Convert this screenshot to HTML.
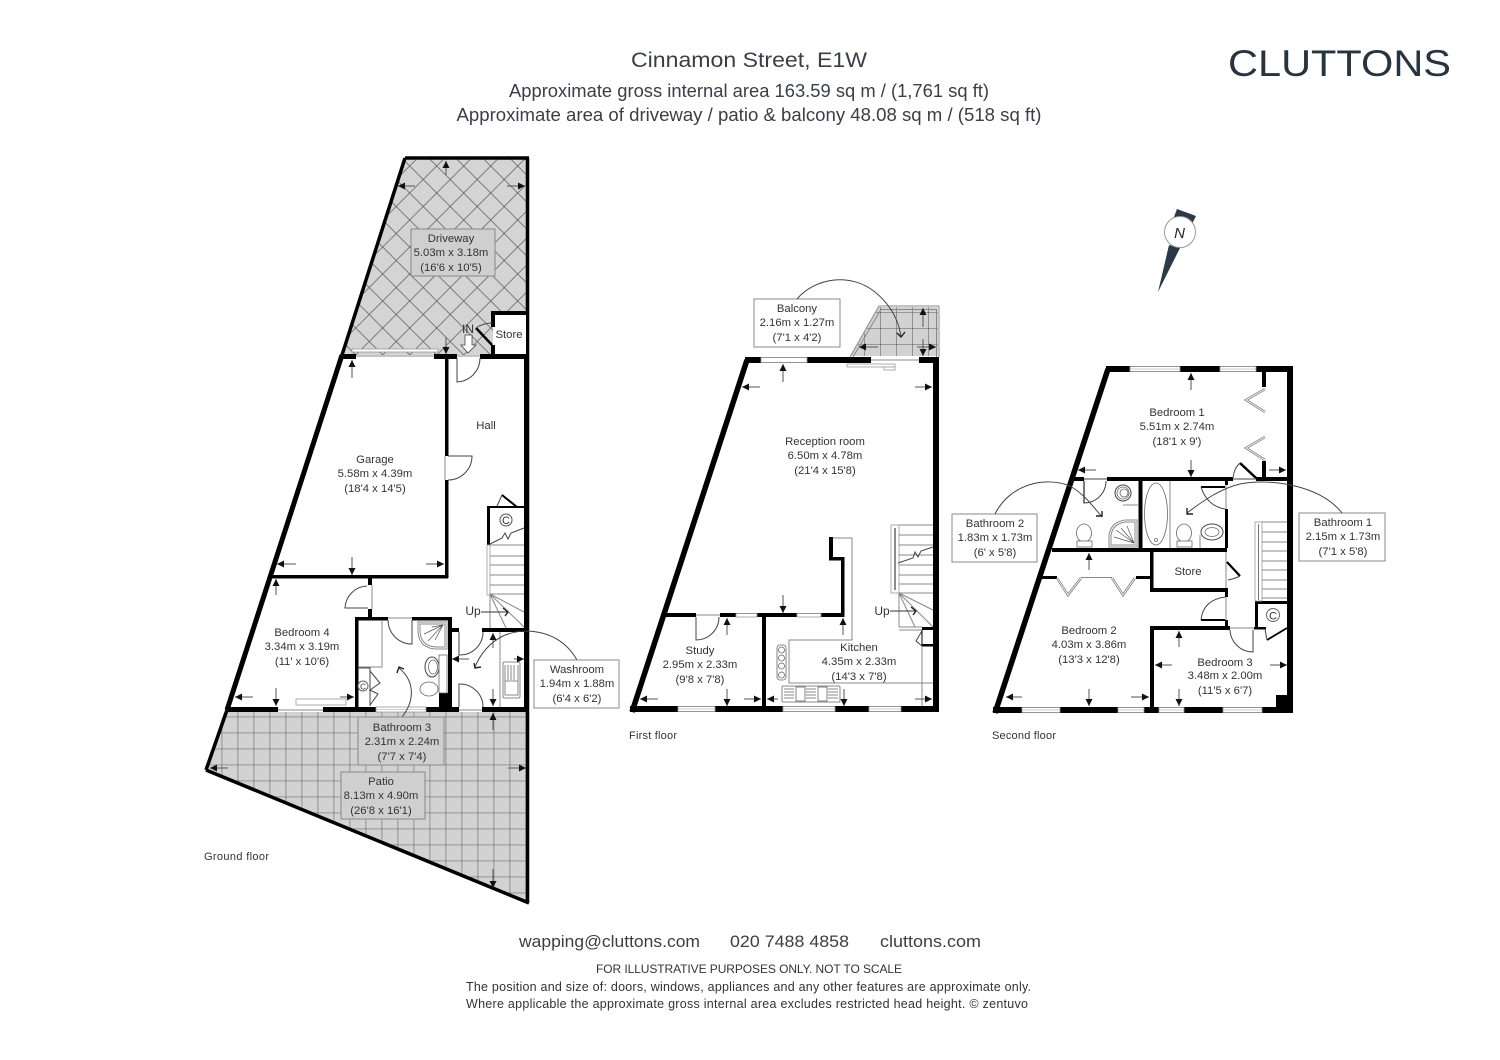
<!DOCTYPE html>
<html><head><meta charset="utf-8"><style>
html,body{margin:0;padding:0;background:#fff}
svg{display:block}
text{font-family:"Liberation Sans",sans-serif;fill:#333}
.l text,.l{font-size:11.3px;text-anchor:middle}
.h{fill:#3a3f45}
.g{fill:none;stroke:#888;stroke-width:1}
.t{fill:none;stroke:#333;stroke-width:.9}
.d{fill:none;stroke:#444;stroke-width:1}
.a{fill:none;stroke:#555;stroke-width:1;marker-end:url(#ah)}
.c{fill:none;stroke:#444;stroke-width:1}
.o{fill:none;stroke:#222;stroke-width:1.400}
.w{fill:#fff;stroke:#999;stroke-width:.8}
.f{fill:#fff;stroke:#666;stroke-width:.8}
</style></head><body>
<svg width="1500" height="1060" viewBox="0 0 1500 1060" xmlns="http://www.w3.org/2000/svg">
<defs>
<marker id="ah" markerUnits="userSpaceOnUse" markerWidth="7" markerHeight="7" refX="7" refY="3.500" orient="auto"><path d="M0 0L7 3.500L0 7Z" fill="#111"/></marker>
<pattern id="dia" patternUnits="userSpaceOnUse" x="423.200" y="179.500" width="27" height="27"><rect width="27" height="27" fill="#d4d4d4"/><path d="M0 0L27 27M27 0L0 27" stroke="#555" stroke-width=".7"/></pattern>
<pattern id="sq" patternUnits="userSpaceOnUse" x="221.700" y="716.700" width="16" height="16"><rect width="16" height="16" fill="#d2d2d2"/><path d="M0 0V16M0 0H16" stroke="#333" stroke-width=".8"/></pattern>
<pattern id="sq2" patternUnits="userSpaceOnUse" x="880" y="312" width="16" height="16"><rect width="16" height="16" fill="#d2d2d2"/><path d="M0 0V16M0 0H16" stroke="#333" stroke-width=".8"/></pattern>
</defs>

<!-- headings -->
<text x="749" y="67" text-anchor="middle" font-size="21" class="h" textLength="236" lengthAdjust="spacingAndGlyphs">Cinnamon Street, E1W</text>
<text x="749" y="97" text-anchor="middle" font-size="18" class="h" textLength="480" lengthAdjust="spacingAndGlyphs">Approximate gross internal area 163.59 sq m / (1,761 sq ft)</text>
<text x="749" y="121" text-anchor="middle" font-size="18" class="h" textLength="585" lengthAdjust="spacingAndGlyphs">Approximate area of driveway / patio &amp; balcony 48.08 sq m / (518 sq ft)</text>
<text x="1228" y="76" font-size="37" style="fill:#263441" textLength="223" lengthAdjust="spacingAndGlyphs">CLUTTONS</text>

<!-- north -->
<path d="M1177 209L1196 216L1192 224L1174 217Z M1169 245L1180 248L1158 292Z" fill="#2b3a46"/>
<circle cx="1180" cy="232" r="15.500" fill="#fff" stroke="#999"/>
<text x="1179.500" y="238" font-size="15" font-style="italic" text-anchor="middle" style="fill:#222">N</text>

<!-- GROUND: driveway & patio -->
<polygon points="405,158 528,158 528,355 343,355" fill="url(#dia)"/>
<polygon points="224,712 528,712 528,902 206,770" fill="url(#sq)"/>
<path d="M405 158H529M527.500 158V903M206 770L529 903" fill="none" stroke="#000" stroke-width="3.500"/>
<path d="M405 158L342 355" stroke="#000" stroke-width="3.500" fill="none"/>
<path d="M342 355L227 710" stroke="#000" stroke-width="5" fill="none"/>
<path d="M227 710L206 770" stroke="#000" stroke-width="3.500" fill="none"/>
<rect x="524" y="355" width="5" height="355"/>

<!-- store -->
<rect x="493" y="313" width="33" height="42" fill="#fff"/>
<path fill="#000" d="M491 311H526V315H495V327H491ZM491 345H495V355H491Z"/>
<path d="M476 328L492 345" stroke="#000" stroke-width="2.500"/>
<path class="c" d="M476 328Q483 323 492 323"/>
<text x="468" y="333" font-size="12" text-anchor="middle">IN</text>
<polygon points="465,335 472,335 472,345 476,345 468,353 461,345 465,345" fill="#fff" stroke="#444" stroke-width=".8"/>

<!-- ground walls -->
<g fill="#000">
<rect x="343" y="354" width="13" height="5"/><rect x="434" y="354" width="23" height="5"/><rect x="480" y="354" width="49" height="5"/>
<rect x="445" y="355" width="3.500" height="101"/><rect x="445" y="480" width="3.500" height="98"/>
<rect x="272" y="575" width="176" height="3.500"/>
<rect x="368" y="578" width="4" height="7"/><rect x="368" y="609" width="4" height="8"/>
<rect x="355" y="617" width="33" height="3.500"/><rect x="412" y="617" width="40" height="3.500"/>
<rect x="355" y="617" width="3.500" height="92"/><rect x="448" y="617" width="4" height="90"/><rect x="439" y="693" width="13" height="15"/>
<rect x="228" y="707" width="50" height="5"/><rect x="323" y="707" width="53" height="5"/><rect x="426" y="707" width="33" height="5"/><rect x="482" y="707" width="46" height="5"/>
<rect x="451" y="628" width="8" height="4"/><rect x="482" y="628" width="44" height="4"/>
<rect x="487" y="507" width="3" height="38"/><rect x="487" y="506" width="37" height="2"/>
</g>
<rect x="352" y="349" width="86" height="3" class="w"/>
<path class="g" d="M356 356H434M457 356H480M278 710H323M459 710H482M372 585V609M445 456V480M388 618H412"/>
<rect x="376" y="707" width="50" height="5" class="w"/><path d="M376 709.500H426" stroke="#999" stroke-width=".6"/>
<rect x="296" y="699" width="50" height="6" class="w"/>

<!-- doors ground -->
<path class="d" d="M457 358V382A24 24 0 0 0 480 358"/>
<path class="d" d="M448 456H472A24 24 0 0 1 448 480"/>
<path class="d" d="M368 608H345A23 23 0 0 1 367 586"/>
<path class="d" d="M412 620V644A24 24 0 0 1 388 620"/>
<path class="d" d="M459 632V655A23 23 0 0 0 483 632"/>
<path class="d" d="M459 707V684A23 23 0 0 1 483 707"/>
<path class="g" d="M500 632V707"/>
<!-- stairs ground -->
<path d="M497 506L502 495" class="c"/><path d="M502 495L517 507" stroke="#000" stroke-width="2" fill="none"/>
<circle cx="506" cy="520" r="6" fill="none" stroke="#555"/><text x="506" y="524" font-size="11" text-anchor="middle">C</text>
<path class="c" d="M490 544L502 538L505 533L508 539L511 533L524 528"/>
<rect x="487" y="545" width="3" height="50" class="w"/>
<path class="g" d="M490 545H524M490 556H524M490 565H524M490 575H524M490 585H524M490 594H524M490 594L524 612M490 594L524 627M490 594L506 628M490 594V628"/>
<text x="473" y="615" font-size="12" text-anchor="middle">Up</text>
<path class="t" d="M481 612H507"/><path class="o" d="M503 608L508 612L505 616"/>
<!-- bath 3 fixtures -->
<path class="g" d="M382 621V667H358.500"/>
<path class="d" d="M358 668H370V706M370 671L380 683L370 690L378 694L370 705" stroke-width="1.200"/>
<circle cx="363" cy="686" r="5" fill="none" stroke="#666"/><text x="363" y="689.500" font-size="8" text-anchor="middle">C</text>
<path class="g" d="M418 622H447V649H436Q418 648 418 630Z"/>
<path class="g" d="M420 624H445V647H436Q420 646 420 630Z"/>
<path stroke="#555" stroke-width=".7" fill="none" d="M443 625L424 634M443 625L428 641M443 625L435 640M443 625L432 627"/>
<ellipse cx="432" cy="667" rx="7" ry="10" fill="#fff" stroke="#444"/><ellipse cx="433" cy="667" rx="4.500" ry="7" class="f"/>
<rect x="439" y="655" width="8" height="38" class="f"/>
<ellipse cx="429" cy="689" rx="9" ry="7" class="f"/>
<!-- washroom sink -->
<rect x="503" y="662" width="17" height="36" rx="1.500" class="f"/>
<path class="g" d="M505 665V681H518V665M508 665V680M511 665V680M514 665V680M505 681V695H518V681"/>
<!-- washroom / bathroom arcs -->
<path class="c" d="M577 660C560 630 525 626 503 636C489 643 480 655 475 667"/><path class="o" d="M474 663L475 668L481 667"/>
<path class="c" d="M402 717C414 702 416 682 399 668"/><path class="o" d="M397 673L399 667L404 669"/>
<!-- ground dims -->
<path class="a" d="M446 175V161"/><path class="a" d="M415 186H398"/><path class="a" d="M507 186H525"/><path class="a" d="M446 337V354"/><path class="a" d="M352 378V360"/>
<path class="a" d="M296 564H277"/><path class="a" d="M352 557V575"/><path class="a" d="M426 564H444"/>
<path class="a" d="M276 595V579"/><path class="a" d="M253 697H235"/><path class="a" d="M276 688V706"/><path class="a" d="M340 697H354"/>
<path class="a" d="M493 648V633"/><path class="a" d="M469 659H452"/><path class="a" d="M514 659H524"/><path class="a" d="M493 689V706"/>
<path class="a" d="M493 730V713"/><path class="a" d="M228 768H210"/><path class="a" d="M508 768H526"/><path class="a" d="M493 869V888"/>
<!-- ground labels -->
<rect x="411" y="229" width="84" height="47" fill="#cfcfcf" stroke="#888"/>
<rect x="358" y="717" width="86" height="48" fill="#cfcfcf" stroke="#888"/>
<rect x="341" y="772" width="84" height="47" fill="#cfcfcf" stroke="#888"/>
<rect x="534" y="660" width="85" height="48" fill="#fff" stroke="#888"/>
<g class="l">
<text x="451" y="242">Driveway</text><text x="451" y="256">5.03m x 3.18m</text><text x="451" y="271">(16'6 x 10'5)</text>
<text x="509" y="338">Store</text><text x="486" y="429">Hall</text>
<text x="375" y="463">Garage</text><text x="375" y="477">5.58m x 4.39m</text><text x="375" y="492">(18'4 x 14'5)</text>
<text x="302" y="636">Bedroom 4</text><text x="302" y="650">3.34m x 3.19m</text><text x="302" y="665">(11' x 10'6)</text>
<text x="577" y="673">Washroom</text><text x="577" y="687">1.94m x 1.88m</text><text x="577" y="702">(6'4 x 6'2)</text>
<text x="402" y="731">Bathroom 3</text><text x="402" y="745">2.31m x 2.24m</text><text x="402" y="760">(7'7 x 7'4)</text>
<text x="381" y="785">Patio</text><text x="381" y="799">8.13m x 4.90m</text><text x="381" y="814">(26'8 x 16'1)</text>
</g>
<text x="204" y="860" font-size="11" textLength="65">Ground floor</text>

<!-- FIRST FLOOR -->
<polygon points="851,356 879,307 938,307 938,356" fill="url(#sq2)"/>
<path class="g" fill="none" d="M850 357L879 306H939V357M853 357L881 309.500H936.500V357"/>
<g fill="#000">
<rect x="745" y="357" width="126" height="6"/><rect x="919" y="357" width="20" height="6"/>
<rect x="933" y="357" width="6" height="355"/>
<rect x="630" y="706" width="309" height="6"/>
<rect x="664" y="613" width="32" height="4"/><rect x="720" y="613" width="123" height="4"/>
<rect x="762" y="613" width="4" height="95"/>
<rect x="841" y="557" width="3.500" height="60"/><rect x="829" y="557" width="15" height="3.500"/><rect x="829" y="537" width="4" height="23"/>
<rect x="922" y="627" width="14" height="3"/><rect x="922" y="644" width="12" height="2.500"/>
</g>
<path d="M747 360L632 712" stroke="#000" stroke-width="5.500" fill="none"/>
<rect x="761" y="357.500" width="46" height="5" class="w"/>
<rect x="678" y="706.500" width="37" height="5" class="w"/><rect x="783" y="706.500" width="52" height="5" class="w"/><rect x="869" y="706.500" width="32" height="5" class="w"/>
<rect x="736" y="613.500" width="21" height="3.500" class="w"/><rect x="797" y="613.500" width="24" height="3.500" class="w"/>
<path d="M678 709H715M783 709H835M869 709H901" stroke="#999" stroke-width=".6"/>
<rect x="847" y="364" width="48" height="3" class="w"/><rect x="884" y="367" width="11" height="3" class="w"/>
<path class="g" d="M833 538H852V640H789V683H933M922 646V706M696 615H720M871 360H919"/>
<path class="d" d="M696 617V640A23 23 0 0 0 719 617"/>
<!-- hob & sink -->
<rect x="777" y="645" width="9" height="35" rx="3" class="f"/>
<circle cx="781.500" cy="650" r="3" class="f"/><circle cx="781.500" cy="658" r="3" class="f"/><circle cx="781.500" cy="666" r="3" class="f"/><circle cx="781.500" cy="675" r="3" class="f"/>
<rect x="782" y="686" width="58" height="16" rx="1" class="f"/>
<path class="g" stroke-width=".7" d="M784 689H794M784 692H794M784 695H794M784 698H794M806 689H816M806 692H816M806 695H816M806 698H816M828 689H838M828 692H838M828 695H838M828 698H838"/>
<rect x="796" y="687" width="9" height="14" class="f"/><rect x="818" y="687" width="9" height="14" class="f"/>
<!-- stairs first -->
<rect x="891" y="525" width="8" height="68" class="w"/><path d="M895 528V590" stroke="#666" stroke-width="1.500"/>
<path class="g" d="M899 525H933M899 535H933M899 545H933M899 555H933M899 565H933M899 575H933M899 584H933M899 593H933M899 593L933 610M899 593L933 627M899 593L915 627M899 593V627M899 627H922M899 630H922"/>
<path class="c" d="M898 563L913 558L915 552L918 557L921 551L933 547"/>
<path class="c" d="M922 631L916 641L922 646"/><path d="M922 630V646" stroke="#000" stroke-width="1"/>
<text x="882" y="615" font-size="12" text-anchor="middle">Up</text>
<path class="t" d="M890 611H915"/><path class="o" d="M911 607L916 611L913 615"/>
<!-- balcony label -->
<rect x="754" y="299" width="86" height="48" fill="#fff" stroke="#888"/>
<path class="c" d="M797 299C815 278 850 272 875 292C892 306 899 322 901 337"/><path class="o" d="M897 333L901 337L905 332"/>
<!-- first dims -->
<path class="a" d="M783 382V364"/><path class="a" d="M760 387H742"/><path class="a" d="M915 387H932"/><path class="a" d="M783 595V613"/>
<path class="a" d="M923 327V308"/><path class="a" d="M923 339V356"/><path class="a" d="M878 347H859"/><path class="a" d="M917 347H936"/>
<path class="a" d="M727 635V618"/><path class="a" d="M658 699H640"/><path class="a" d="M727 689V706"/><path class="a" d="M744 699H761"/>
<path class="a" d="M843 635V618"/><path class="a" d="M778 699H767"/><path class="a" d="M844 689V706"/><path class="a" d="M915 699H932"/>
<g class="l">
<text x="797" y="312">Balcony</text><text x="797" y="326">2.16m x 1.27m</text><text x="797" y="341">(7'1 x 4'2)</text>
<text x="825" y="445">Reception room</text><text x="825" y="459">6.50m x 4.78m</text><text x="825" y="474">(21'4 x 15'8)</text>
<text x="700" y="654">Study</text><text x="700" y="668">2.95m x 2.33m</text><text x="700" y="683">(9'8 x 7'8)</text>
<text x="859" y="651">Kitchen</text><text x="859" y="665">4.35m x 2.33m</text><text x="859" y="680">(14'3 x 7'8)</text>
</g>
<text x="629" y="739" font-size="11" textLength="48">First floor</text>

<!-- SECOND FLOOR -->
<g fill="#000">
<rect x="1106" y="366" width="187" height="6"/><rect x="1287" y="366" width="6" height="347"/>
<rect x="993" y="707" width="300" height="6"/>
<rect x="1262" y="372" width="4" height="15"/><rect x="1262" y="461" width="4" height="17"/>
<rect x="1074" y="477" width="10" height="4"/><rect x="1107" y="477" width="126" height="4"/><rect x="1256" y="477" width="31" height="4"/>
<rect x="1138.500" y="481" width="4" height="69"/>
<rect x="1052" y="548" width="175" height="4"/>
<rect x="1225" y="481" width="3" height="4"/><rect x="1225" y="509" width="3" height="39"/>
<rect x="1150" y="552" width="3.500" height="40"/><rect x="1150" y="588" width="78" height="4"/>
<rect x="1041" y="576" width="16" height="3"/><rect x="1136" y="576" width="14" height="3"/>
<rect x="1225" y="592" width="3" height="5"/><rect x="1225" y="620" width="3" height="7"/>
<rect x="1150" y="626" width="80" height="4"/><rect x="1150" y="626" width="4" height="82"/>
<rect x="1255" y="601" width="33" height="3"/><rect x="1255" y="601" width="3" height="28"/><rect x="1254" y="627" width="12" height="2.500"/>
<rect x="1276" y="695" width="12" height="12"/>
</g>
<path d="M1108 369L995 713" stroke="#000" stroke-width="5.500" fill="none"/>
<rect x="1130" y="366.500" width="50" height="5" class="w"/><rect x="1220" y="366.500" width="36" height="5" class="w"/>
<rect x="1022" y="707.500" width="38" height="5" class="w"/><rect x="1118" y="707.500" width="26" height="5" class="w"/><rect x="1159" y="707.500" width="25" height="5" class="w"/><rect x="1223" y="707.500" width="39" height="5" class="w"/>
<path d="M1130 369H1180M1220 369H1256M1022 710H1060M1118 710H1144M1159 710H1184M1223 710H1262" stroke="#999" stroke-width=".6"/>
<!-- bifolds -->
<path fill="none" stroke="#777" stroke-width="2.400" d="M1265 389L1246 400L1265 412M1265 437L1246 448L1265 460M1057 578L1068 595L1081 578M1112 578L1123 595L1135 578"/>
<path fill="none" stroke="#fff" stroke-width=".9" d="M1265 389L1246 400L1265 412M1265 437L1246 448L1265 460M1057 578L1068 595L1081 578M1112 578L1123 595L1135 578"/>
<path class="g" d="M1081 577.500H1112M1226 485V509M1226 552V588M1226 597V620"/>
<!-- doors second -->
<path d="M1240 463L1256 478" stroke="#000" stroke-width="2.500" fill="none"/><path class="c" d="M1233 478Q1234 468 1240 463M1233 479H1256"/>
<path class="d" d="M1084 481V503A22 22 0 0 0 1106 481"/><path class="c" d="M1084 479H1107"/><path d="M1084 481V503" stroke="#222" stroke-width="1.200"/>
<rect x="1201" y="486" width="24" height="2" fill="#000"/><path class="c" d="M1201 487Q1207 506 1225 509"/>
<path d="M1227 562L1240 576" stroke="#000" stroke-width="2.200" fill="none"/><path class="c" d="M1240 576Q1234 579 1228 580"/>
<rect x="1201" y="619" width="24" height="2" fill="#000"/><path class="c" d="M1201 620Q1203 600 1225 597"/>
<path class="d" d="M1253 630V652A23 23 0 0 1 1230 630"/><path class="g" d="M1230 628H1254"/>
<path d="M1267 640L1287 628" stroke="#000" stroke-width="1.800" fill="none"/><path class="c" d="M1265 629L1267 640"/>
<circle cx="1273" cy="615" r="6.500" fill="none" stroke="#666"/><text x="1273" y="619.500" font-size="11" text-anchor="middle">C</text>
<!-- fixtures -->
<ellipse cx="1156" cy="514" rx="11.500" ry="31" class="f"/><circle cx="1156" cy="540" r="1.500" class="f"/><path class="g" d="M1170 481V548"/>
<circle cx="1123" cy="493" r="8" fill="#fff" stroke="#444"/><circle cx="1123" cy="493" r="6" class="f"/><circle cx="1124" cy="493" r="4" class="f"/><path class="g" d="M1123 505H1138"/>
<path class="g" d="M1137 520V547H1109V535Q1111 522 1125 520Z"/><path class="g" d="M1135 522V545H1111V535Q1113 524 1125 522Z"/>
<path stroke="#555" stroke-width=".7" fill="none" d="M1134 543L1116 530M1134 543L1121 528M1134 543L1127 526M1134 543L1114 537"/>
<ellipse cx="1084" cy="533" rx="7.500" ry="9" class="f"/><rect x="1077" y="541" width="15" height="6" class="f"/>
<ellipse cx="1184" cy="533" rx="7.500" ry="9" class="f"/><rect x="1177" y="541" width="15" height="6" class="f"/>
<ellipse cx="1212" cy="532" rx="11" ry="8" fill="#fff" stroke="#444"/><ellipse cx="1212" cy="532" rx="7" ry="4.500" class="f"/><path class="g" d="M1200 548V535"/>
<!-- stairs second -->
<rect x="1255" y="522" width="7" height="79" class="w"/><path d="M1258.500 524V600" stroke="#777" stroke-width="1"/>
<path class="g" d="M1262 522H1287M1262 532H1287M1262 542H1287M1262 551H1287M1262 561H1287M1262 570H1287M1262 580H1287M1262 589H1287M1262 598H1287"/>
<!-- bath labels -->
<rect x="952" y="514" width="85" height="48" fill="#fff" stroke="#888"/>
<rect x="1299" y="513" width="86" height="48" fill="#fff" stroke="#888"/>
<path class="c" d="M995 514C1010 484 1045 476 1070 486C1084 494 1092 505 1102 517"/><path class="o" d="M1096 516H1102V511"/>
<path class="c" d="M1342 513C1320 485 1270 478 1240 484C1222 488 1204 500 1187 513"/><path class="o" d="M1187 508V514H1193"/>
<!-- second dims -->
<path class="a" d="M1191 390V373"/><path class="a" d="M1191 460V477"/><path class="a" d="M1096 470H1078"/><path class="a" d="M1269 470H1286"/>
<path class="a" d="M1089 570V553"/><path class="a" d="M1022 697H1006"/><path class="a" d="M1089 689V706"/><path class="a" d="M1131 697H1149"/>
<path class="a" d="M1179 647V631"/><path class="a" d="M1179 689V706"/><path class="a" d="M1172 665H1155"/><path class="a" d="M1270 665H1287"/>
<g class="l">
<text x="1177" y="416">Bedroom 1</text><text x="1177" y="430">5.51m x 2.74m</text><text x="1177" y="445">(18'1 x 9')</text>
<text x="995" y="527">Bathroom 2</text><text x="995" y="541">1.83m x 1.73m</text><text x="995" y="556">(6' x 5'8)</text>
<text x="1343" y="526">Bathroom 1</text><text x="1343" y="540">2.15m x 1.73m</text><text x="1343" y="555">(7'1 x 5'8)</text>
<text x="1188" y="575">Store</text>
<text x="1089" y="634">Bedroom 2</text><text x="1089" y="648">4.03m x 3.86m</text><text x="1089" y="663">(13'3 x 12'8)</text>
<text x="1225" y="666">Bedroom 3</text><text x="1225" y="679">3.48m x 2.00m</text><text x="1225" y="694">(11'5 x 6'7)</text>
</g>
<text x="992" y="739" font-size="11" textLength="64">Second floor</text>

<!-- footer -->
<text x="519" y="947" font-size="17" class="h" textLength="181" lengthAdjust="spacingAndGlyphs">wapping@cluttons.com</text>
<text x="730" y="947" font-size="17" class="h" textLength="119" lengthAdjust="spacingAndGlyphs">020 7488 4858</text>
<text x="880" y="947" font-size="17" class="h" textLength="101" lengthAdjust="spacingAndGlyphs">cluttons.com</text>
<text x="596" y="973" font-size="12" textLength="306">FOR ILLUSTRATIVE PURPOSES ONLY. NOT TO SCALE</text>
<text x="466" y="991" font-size="12.500" textLength="565">The position and size of: doors, windows, appliances and any other features are approximate only.</text>
<text x="466" y="1008" font-size="12.500" textLength="562">Where applicable the approximate gross internal area excludes restricted head height. © zentuvo</text>
</svg>
</body></html>
